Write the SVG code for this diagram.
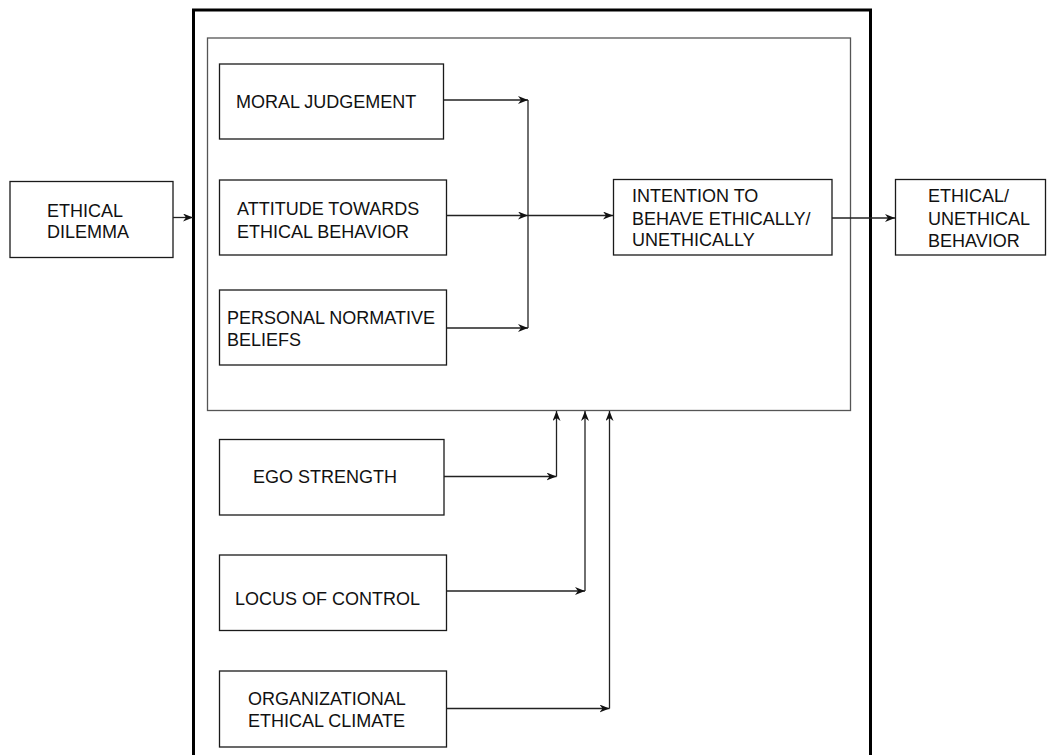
<svg xmlns="http://www.w3.org/2000/svg" width="1050" height="755" viewBox="0 0 1050 755">
<style>
.box{fill:#fff;stroke:#1a1a1a;stroke-width:1.3}
.t{font-family:"Liberation Sans",Arial,sans-serif;font-size:18px;fill:#111}
.c{fill:none;stroke:#222;stroke-width:1.3}
</style>
<defs>
<marker id="ah" markerUnits="userSpaceOnUse" markerWidth="12" markerHeight="10" refX="10" refY="4" orient="auto">
<path d="M0,0 L10,4 L0,8 L3,4 z" fill="#111"/>
</marker>
</defs>
<rect x="0" y="0" width="1050" height="755" fill="#fff"/>
<g id="outer"><rect x="193.5" y="10" width="677" height="760" fill="none" stroke="#000" stroke-width="3"/></g>
<g id="inner"><rect x="207.5" y="38" width="643" height="372.5" fill="none" stroke="#555" stroke-width="1.3"/></g>
<g id="ethical-dilemma"><rect class="box" x="10" y="181.5" width="163" height="76"/><text class="t" x="47" y="217">ETHICAL</text><text class="t" x="47" y="238">DILEMMA</text></g>
<g id="moral-judgement"><rect class="box" x="219.5" y="64" width="224" height="75"/><text class="t" x="236" y="108">MORAL JUDGEMENT</text></g>
<g id="attitude"><rect class="box" x="219.5" y="180" width="227" height="75"/><text class="t" x="237" y="215">ATTITUDE TOWARDS</text><text class="t" x="237" y="237.5">ETHICAL BEHAVIOR</text></g>
<g id="personal"><rect class="box" x="219.5" y="290" width="227" height="75"/><text class="t" x="227" y="324">PERSONAL NORMATIVE</text><text class="t" x="227" y="346">BELIEFS</text></g>
<g id="intention"><rect class="box" x="613.5" y="179.5" width="218.5" height="75.5"/><text class="t" x="632" y="201.5">INTENTION TO</text><text class="t" x="632" y="224.5">BEHAVE ETHICALLY/</text><text class="t" x="632" y="246">UNETHICALLY</text></g>
<g id="outcome"><rect class="box" x="895.5" y="179.5" width="150" height="75.5"/><text class="t" x="928" y="201.5">ETHICAL/</text><text class="t" x="928" y="224.5">UNETHICAL</text><text class="t" x="928" y="246.5">BEHAVIOR</text></g>
<g id="ego"><rect class="box" x="219.5" y="439.5" width="224.5" height="75.5"/><text class="t" x="253" y="483">EGO STRENGTH</text></g>
<g id="locus"><rect class="box" x="219.5" y="555" width="227" height="75.5"/><text class="t" x="235" y="604.5">LOCUS OF CONTROL</text></g>
<g id="climate"><rect class="box" x="219.5" y="671" width="227" height="76"/><text class="t" x="248" y="704.5">ORGANIZATIONAL</text><text class="t" x="248" y="726.5">ETHICAL CLIMATE</text></g>
<g id="connectors">
<path class="c" d="M173,217.5 H193" marker-end="url(#ah)"/>
<path class="c" d="M443.5,100 H528" marker-end="url(#ah)"/>
<path class="c" d="M446.5,215.5 H528" marker-end="url(#ah)"/>
<path class="c" d="M446.5,328 H528" marker-end="url(#ah)"/>
<path class="c" d="M528,100 V328"/>
<path class="c" d="M528,215.5 H613" marker-end="url(#ah)"/>
<path class="c" d="M832,218 H895" marker-end="url(#ah)"/>
<path class="c" d="M444,476.5 H556.5" marker-end="url(#ah)"/>
<path class="c" d="M556.5,476.5 V411" marker-end="url(#ah)"/>
<path class="c" d="M446.5,591 H585" marker-end="url(#ah)"/>
<path class="c" d="M585,591 V411" marker-end="url(#ah)"/>
<path class="c" d="M446.5,708.5 H609.5" marker-end="url(#ah)"/>
<path class="c" d="M609.5,708.5 V411" marker-end="url(#ah)"/>
</g>
</svg>
